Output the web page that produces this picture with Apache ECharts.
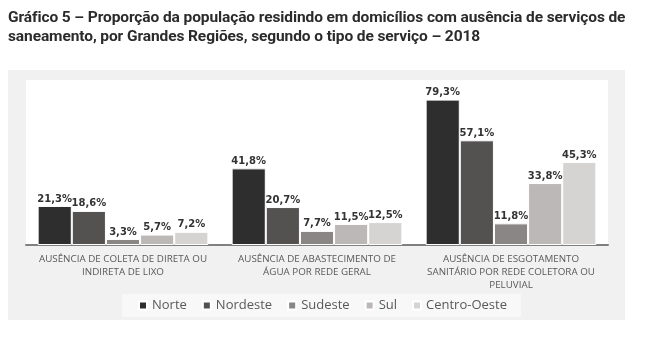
<!DOCTYPE html>
<html>
<head>
<meta charset="UTF-8">
<title></title>
<script src="https://cdn.jsdelivr.net/npm/echarts@6/dist/echarts.min.js"></script>
<style type="text/css">
  *{margin:0;padding:0;}
  body{background:#fff;}
  .ttl{position:absolute;left:8px;top:8px;width:645px;font-family:'Roboto',sans-serif;font-weight:bold;font-size:15.5px;line-height:19px;color:#2b2b2b;letter-spacing:-0.1px;}
  #main{position:absolute;left:0;top:0;width:650px;height:361px;}
</style>
</head>
<body>
<div id="main"></div>
<div class="ttl">Gráfico 5 – Proporção da população residindo em domicílios com ausência de serviços de<br>saneamento, por Grandes Regiões, segundo o tipo de serviço – 2018</div>
<script type="text/javascript">
var categorias = [
  'AUSÊNCIA DE COLETA DE DIRETA OU\nINDIRETA DE LIXO',
  'AUSÊNCIA DE ABASTECIMENTO DE\nÁGUA POR REDE GERAL',
  'AUSÊNCIA DE ESGOTAMENTO\nSANITÁRIO POR REDE COLETORA OU\nPELUVIAL'
];
var regioes = ['Norte', 'Nordeste', 'Sudeste', 'Sul', 'Centro-Oeste'];
var norte = [21.3, 41.8, 79.3];
var nordeste = [18.6, 20.7, 57.1];
var sudeste = [3.3, 7.7, 11.8];
var sul = [5.7, 11.5, 33.8];
var centroOeste = [7.2, 12.5, 45.3];
var cores = ['#2e2e2e', '#545151', '#8a8686', '#bcb8b8', '#d6d3d3'];

var valores = [norte, nordeste, sudeste, sul, centroOeste];
var myChart = echarts.init(document.getElementById('main'));

var series = [];
for (var i = 0; i < regioes.length; i++) {
  series.push({
    name: regioes[i],
    type: 'bar',
    data: valores[i],
    barGap: '0%',
    barCategoryGap: '12%',
    itemStyle: { color: cores[i], borderColor: '#fff', borderWidth: 1 },
    label: {
      show: true,
      position: 'top',
      distance: 2,
      fontFamily: 'DejaVu Sans',
      fontWeight: 'bold',
      fontSize: 10,
      color: '#333',
      formatter: function (p) { return p.value.toFixed(1).replace('.', ',') + '%'; }
    }
  });
}

var option = {
  animation: false,
  backgroundColor: '#fff',
  graphic: [
    { type: 'rect', z: -10, shape: { x: 8, y: 70, width: 617, height: 250 }, style: { fill: '#f1f1f1' } }
  ],
  grid: { left: 26, right: 42, top: 80, bottom: 116, show: true, backgroundColor: '#fff', borderWidth: 0 },
  legend: {
    data: regioes,
    bottom: 44,
    left: 122,
    width: 395,
    padding: [5, 14, 5, 16],
    backgroundColor: '#f8f8f8',
    itemWidth: 8,
    itemHeight: 8,
    itemGap: 15,
    icon: 'rect',
    textStyle: { fontFamily: 'Open Sans', fontSize: 13, color: '#595959' }
  },
  xAxis: {
    type: 'category',
    data: categorias,
    axisTick: { show: false },
    axisLine: { lineStyle: { color: '#808080', width: 2 } },
    axisLabel: { interval: 0, margin: 8, fontFamily: 'Open Sans', fontSize: 9.8, lineHeight: 13, color: '#595959' }
  },
  yAxis: {
    type: 'value',
    min: 0,
    max: 90,
    show: false
  },
  series: series
};
myChart.setOption(option);
</script>
</body>
</html>
